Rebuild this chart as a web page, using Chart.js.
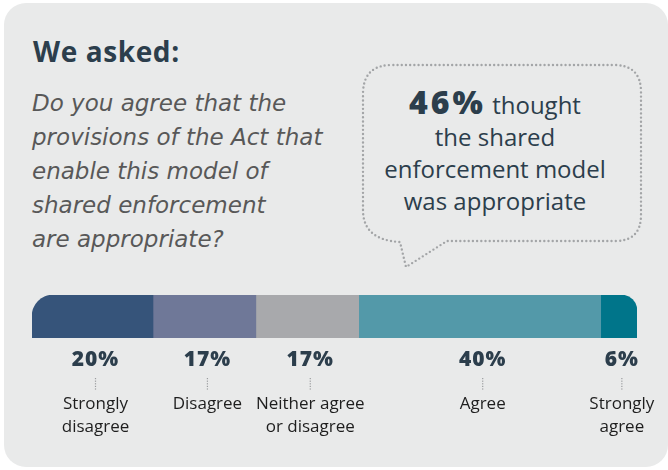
<!DOCTYPE html>
<html>
<head>
<meta charset="utf-8">
<script src="https://cdn.jsdelivr.net/npm/chart.js@4"></script>
<style>
  html, body { margin: 0; padding: 0; background: #ffffff; }
  #wrap { position: relative; width: 668px; height: 470px; overflow: hidden; }
  #panel { position: absolute; left: 4px; top: 3px; width: 664px; height: 464px; background: #e9eaea; border-radius: 22px; }
  #chart { position: absolute; left: 0; top: 0; }
  .title { position: absolute; left: 33px; top: 32px; font: 700 28px "Open Sans", sans-serif; letter-spacing: 0.6px; color: #2c3e4c; }
  .question { position: absolute; left: 32px; top: 86px; font: oblique 400 23px/34px "DejaVu Sans", sans-serif; color: #585858; white-space: nowrap; }
  .bubble { position: absolute; left: 0; top: 0; }
  .quote { position: absolute; left: 355px; top: 86px; width: 280px; text-align: center; font: 400 24px/32px "Open Sans", sans-serif; color: #2c3e4c; white-space: nowrap; }
  .quote b { font-size: 32px; font-weight: 800; letter-spacing: 3px; }
</style>
</head>
<body>
<div id="wrap">
  <div id="panel"></div>
  <div class="title">We asked:</div>
  <div class="question">Do you agree that the<br>provisions of the Act that<br>enable this model of<br>shared enforcement<br>are appropriate?</div>
  <svg class="bubble" width="668" height="470">
    <path d="M 363 210 Q 363 240 400 242 L 406 267 L 447 241 H 615 Q 641 241 641 215 V 92 Q 641 65 614 65 H 392 Q 363 65 363 94 Z"
          fill="none" stroke="#a3a5a7" stroke-width="2.4" stroke-dasharray="0 4.2" stroke-linecap="round" stroke-linejoin="round"/>
  </svg>
  <div class="quote"><b>46%</b> thought<br>the shared<br>enforcement model<br>was appropriate</div>
  <div style="position:absolute;left:0;top:0;width:668px;height:470px;">
    <canvas id="chart"></canvas>
  </div>
</div>
<script>
// answers to the question, left to right
const categories = ['Strongly disagree', 'Disagree', 'Neither agree or disagree', 'Agree', 'Strongly agree'];
const labelLines = [['Strongly', 'disagree'], ['Disagree'], ['Neither agree', 'or disagree'], ['Agree'], ['Strongly', 'agree']];
const shares = [20, 17, 17, 40, 6];
const colours = ['#36547a', '#6f7898', '#a8a9ac', '#5399a9', '#00758a'];

const lastIdx = shares.length - 1;

const datasets = shares.map((v, i) => ({
  label: categories[i],
  data: [v],
  backgroundColor: colours[i],
  borderWidth: 0,
  borderSkipped: false,
  borderRadius: i === 0 ? { topLeft: 24, topRight: 0, bottomLeft: 0, bottomRight: 0 }
    : i === lastIdx ? { topLeft: 0, topRight: 16, bottomLeft: 0, bottomRight: 0 } : 0,
  barPercentage: 1,
  categoryPercentage: 1
}));

// percentages, dotted leaders and answer names under each segment
const segmentLabels = {
  id: 'segmentLabels',
  afterDatasetsDraw(chart) {
    const ctx = chart.ctx;
    ctx.save();
    ctx.textAlign = 'center';
    chart.data.datasets.forEach((ds, i) => {
      const bar = chart.getDatasetMeta(i).data[0];
      const cx = (bar.x + bar.base) / 2 + 3;
      const bottom = bar.y + bar.height / 2;

      ctx.fillStyle = '#2c3e4c';
      ctx.font = '800 21px "Open Sans", sans-serif';
      ctx.letterSpacing = '1px';
      ctx.textBaseline = 'alphabetic';
      ctx.fillText(ds.data[0] + '%', cx, bottom + 28);
      ctx.letterSpacing = '0px';

      ctx.fillStyle = '#9a9c9e';
      for (let y = bottom + 40; y <= bottom + 51; y += 2.6) {
        ctx.fillRect(cx - 0.6, y, 1.2, 1.2);
      }

      ctx.fillStyle = '#1e1e1e';
      ctx.font = '400 17px "Open Sans", sans-serif';
      labelLines[i].forEach((line, k) => {
        ctx.fillText(line, cx, bottom + 71 + k * 23);
      });
    });
    ctx.restore();
  }
};

new Chart(document.getElementById('chart'), {
  type: 'bar',
  data: {
    labels: ['Response'],
    datasets: datasets
  },
  options: {
    indexAxis: 'y',
    responsive: true,
    maintainAspectRatio: false,
    animation: false,
    layout: {
      padding: { left: 32, right: 31, top: 295, bottom: 132 }
    },
    scales: {
      x: { stacked: true, min: 0, max: 100, display: false },
      y: { stacked: true, display: false }
    },
    plugins: {
      legend: { display: false },
      tooltip: { enabled: false }
    }
  },
  plugins: [segmentLabels]
});
</script>
</body>
</html>
